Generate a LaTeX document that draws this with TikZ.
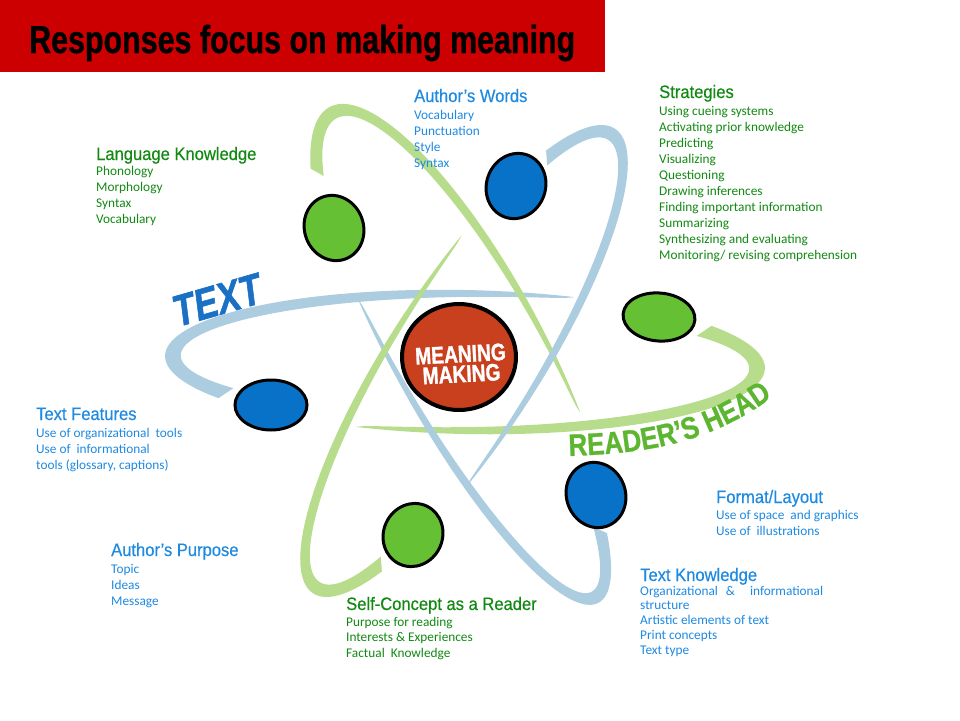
\documentclass[tikz,border=0pt]{standalone}
\usepackage{fontspec}
\setmainfont{Liberation Sans}
\newfontfamily\hdfont{Liberation Sans}[FakeStretch=0.92, FakeBold=0.4]
\newfontfamily\itmfont{Carlito}
\newfontfamily\heavyfont{Liberation Sans}[FakeStretch=0.80, FakeBold=1.2]
\newfontfamily\rhfont{Liberation Sans}[FakeStretch=0.84, FakeBold=0.8]
\newfontfamily\titlefont{Liberation Sans}[FakeStretch=0.78, FakeBold=0.8]
\usetikzlibrary{shapes.geometric,decorations.text}

\definecolor{orbblue}{RGB}{172,204,224}
\definecolor{orbgreen}{RGB}{183,221,140}
\definecolor{elgreen}{RGB}{102,192,52}
\definecolor{elblue}{RGB}{8,114,200}
\definecolor{txtblue}{RGB}{30,138,226}
\definecolor{txtgreen}{RGB}{18,138,18}
\definecolor{textlbl}{RGB}{26,112,196}
\definecolor{readerlbl}{RGB}{92,182,48}
\definecolor{meaningred}{RGB}{200,64,30}
\definecolor{titlered}{RGB}{204,0,0}

% crescent: color, cx, cy (image), rotation, a, b, t0, t1, max width
\newcommand\crescent[9]{%
 \begin{scope}[shift={(#2,-#3)}, rotate=#4]
  \fill[#1] plot[domain=#7:#8, samples=90, variable=\t] ({#5*cos(\t)},{#6*sin(\t)})
   -- plot[domain=#8:#7, samples=90, variable=\t]
   ({(#5-#9*sqrt(max(0.0001,(\t-#7)/(#8-#7))))*cos(\t)},{(#6-#9*sqrt(max(0.0001,(\t-#7)/(#8-#7))))*sin(\t)})
   -- cycle;
 \end{scope}}

\tikzset{
 hd/.style={font=\hdfont\fontsize{18}{18}\selectfont, anchor=base west, inner sep=0},
 itm/.style={font=\itmfont\fontsize{13.3}{13.3}\selectfont, anchor=base west, inner sep=0},
 electron/.style={ellipse, draw=black, line width=3pt, inner sep=0},
}

% block: name, x, heading baseline, colour, heading, first item baseline, spacing, items
\newcommand\infoblock[8]{%
 \node[hd, text=#4] (#1h) at (#2,-#3) {#5};
 \foreach \s [count=\i] in {#8} \node[itm, text=#4] (#1\i) at (#2,{-#6-#7*(\i-1)}) {\s};}

\begin{document}
\begin{tikzpicture}[x=1pt,y=1pt]
\useasboundingbox (0,0) rectangle (960,-720);
\fill[white] (0,0) rectangle (960,-720);

% title bar
\node[fill=titlered, minimum width=605, minimum height=72, anchor=north west, inner sep=0] (bar) at (0,0) {};
\node[anchor=base west, inner sep=0, font=\titlefont\bfseries\fontsize{39}{39}\selectfont] (title) at (29,-53) {Responses focus on making meaning};

% orbits
\crescent{orbblue}{465}{362}{-1.2}{300}{72}{69}{215}{18}
\crescent{orbgreen}{465}{362}{-1.2}{300}{72}{249}{395}{18}
\crescent{orbgreen}{462}{356}{-62}{282}{84}{68}{213}{15}
\crescent{orbblue}{462}{356}{-61}{282}{68}{249}{397}{15}
\crescent{orbgreen}{464}{361}{57}{277}{76}{68}{217}{15}
\crescent{orbblue}{464}{361}{57}{277}{76}{248}{397}{15}

% electrons
\node[electron, fill=elgreen, minimum width=59, minimum height=66, rotate=20] (e1) at (334,-228) {};
\node[electron, fill=elblue, minimum width=59, minimum height=66, rotate=-20] (e2) at (516,-186) {};
\node[electron, fill=elgreen, minimum width=72, minimum height=48, rotate=-5] (e3) at (659,-317) {};
\node[electron, fill=elblue, minimum width=72, minimum height=50] (e4) at (271,-405) {};
\node[electron, fill=elblue, minimum width=59, minimum height=66, rotate=20] (e5) at (596,-495) {};
\node[electron, fill=elgreen, minimum width=59, minimum height=64, rotate=-25] (e6) at (413,-535) {};

% nucleus
\node[ellipse, draw=black, line width=4pt, fill=meaningred, minimum width=114, minimum height=106, inner sep=0] (core) at (459,-357) {};
\node[font=\heavyfont\bfseries\fontsize{24}{20}\selectfont, text=white, align=center, rotate=3, inner sep=0] (coretext) at (461,-364) {MEANING\\MAKING};

% orbit labels
\node[font=\heavyfont\bfseries\itshape\fontsize{44}{44}\selectfont, text=textlbl, rotate=16, inner sep=0] (textlabel) at (217,-300) {TEXT};
\coordinate (rhstart) at (569,-456);
\coordinate (rhend) at (782,-390);
\path[decorate, decoration={text along path, text color=readerlbl,
  text={|\rhfont\bfseries\fontsize{31}{31}\selectfont|READER’S HEAD}}]
  (rhstart) .. controls (650,-453) and (712,-444) .. (rhend);

% text blocks
\infoblock{aw}{414}{102}{txtblue}{Author’s Words}{119}{16}{Vocabulary, Punctuation, Style, Syntax}
\infoblock{lk}{96}{160}{txtgreen}{Language Knowledge}{175}{16}{Phonology, Morphology, Syntax, Vocabulary}
\infoblock{st}{659}{98}{txtgreen}{Strategies}{115}{16}{Using cueing systems, Activating prior knowledge, Predicting, Visualizing, Questioning, Drawing inferences, Finding important information, Summarizing, Synthesizing and evaluating, Monitoring/ revising comprehension}
\infoblock{tf}{36}{420}{txtblue}{Text Features}{437}{16}{Use of organizational\ \ tools, Use of\ \ informational, {tools (glossary, captions)}}
\infoblock{ap}{111}{556}{txtblue}{Author’s Purpose}{573}{16}{Topic, Ideas, Message}
\infoblock{sc}{346}{610}{txtgreen}{Self-Concept as a Reader}{626}{15.5}{Purpose for reading, Interests \& Experiences, Factual\ \ Knowledge}
\infoblock{fl}{716}{503}{txtblue}{Format/Layout}{519}{16}{Use of space\ \ and graphics, Use of\ \ illustrations}
\infoblock{tk}{640}{581}{txtblue}{Text Knowledge}{595}{14.8}{Organizational\hspace{8pt}\&\hspace{15pt}informational, structure, Artistic elements of text, Print concepts, Text type}
\end{tikzpicture}
\end{document}
